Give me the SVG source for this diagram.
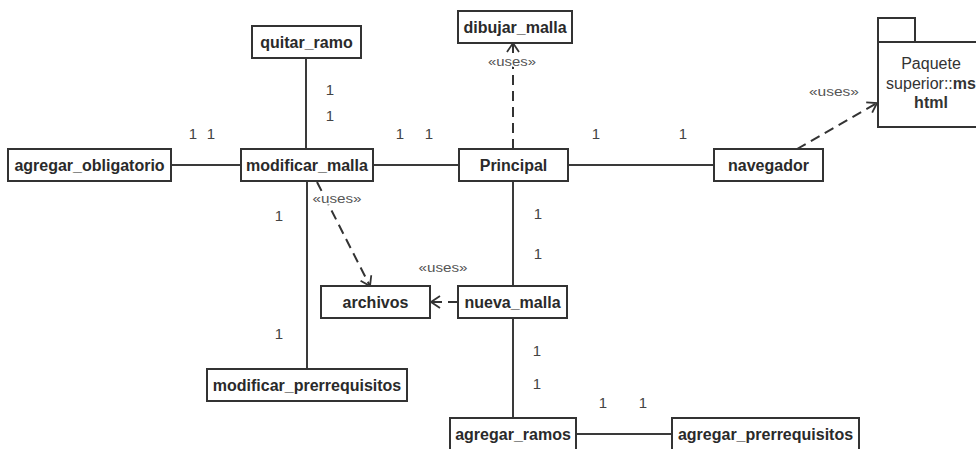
<svg xmlns="http://www.w3.org/2000/svg" width="976" height="449" viewBox="0 0 976 449">
  <style>
    .box { fill: #ffffff; stroke: #333333; stroke-width: 2; }
    .lbl { font-family: "Liberation Sans", Arial, sans-serif; font-size: 16px; font-weight: bold; fill: #2a2a2a; text-anchor: middle; }
    .assoc { stroke: #3a3a3a; stroke-width: 2; fill: none; }
    .dep { stroke: #333333; stroke-width: 2; fill: none; stroke-dasharray: 10 6; }
    .mult { font-family: "Liberation Sans", Arial, sans-serif; font-size: 15px; fill: #444444; text-anchor: middle; }
    .stereo { font-family: "Liberation Sans", Arial, sans-serif; font-size: 12px; fill: #555555; text-anchor: middle; stroke: #ffffff; stroke-width: 3; paint-order: stroke; }
    .pkg { font-family: "Liberation Sans", Arial, sans-serif; font-size: 16px; fill: #333333; text-anchor: middle; }
  </style>
  <defs>
    <marker id="open" markerUnits="userSpaceOnUse" markerWidth="14" markerHeight="14" refX="9" refY="6" orient="auto" overflow="visible">
      <path d="M0,0 L9,6 L0,12" fill="none" stroke="#333333" stroke-width="1.8"/>
    </marker>
  </defs>

  <rect width="976" height="449" fill="#ffffff"/>

  <!-- associations -->
  <g id="connectors">
    <line class="assoc" x1="306" y1="58" x2="306" y2="149"/>
    <line class="assoc" x1="171" y1="165" x2="241" y2="165"/>
    <line class="assoc" x1="373" y1="165" x2="459" y2="165"/>
    <line class="assoc" x1="568" y1="165" x2="714" y2="165"/>
    <line class="assoc" x1="307" y1="181" x2="307" y2="369"/>
    <line class="assoc" x1="513" y1="181" x2="513" y2="286"/>
    <line class="assoc" x1="513" y1="318" x2="513" y2="418"/>
    <line class="assoc" x1="576" y1="434" x2="672" y2="434"/>

    <!-- dependencies -->
    <line class="dep" x1="513" y1="149" x2="513" y2="43" marker-end="url(#open)"/>
    <line class="dep" x1="797" y1="149" x2="877" y2="103" marker-end="url(#open)"/>
    <line class="dep" x1="317" y1="182" x2="370" y2="286" marker-end="url(#open)"/>
    <line class="dep" x1="458" y1="302" x2="431" y2="302" marker-end="url(#open)"/>

    <text class="stereo" x="512" y="66" textLength="48" lengthAdjust="spacingAndGlyphs">«uses»</text>
    <text class="stereo" x="834" y="96" textLength="50" lengthAdjust="spacingAndGlyphs">«uses»</text>
    <text class="stereo" x="337" y="203" textLength="49" lengthAdjust="spacingAndGlyphs">«uses»</text>
    <text class="stereo" x="443" y="272" textLength="49" lengthAdjust="spacingAndGlyphs">«uses»</text>

    <!-- multiplicities -->
    <text class="mult" x="330" y="95">1</text>
    <text class="mult" x="330" y="121">1</text>
    <text class="mult" x="193" y="139">1</text>
    <text class="mult" x="211" y="139">1</text>
    <text class="mult" x="400" y="139">1</text>
    <text class="mult" x="429" y="139">1</text>
    <text class="mult" x="596" y="139">1</text>
    <text class="mult" x="683" y="139">1</text>
    <text class="mult" x="538" y="219">1</text>
    <text class="mult" x="538" y="259">1</text>
    <text class="mult" x="537" y="356">1</text>
    <text class="mult" x="537" y="389">1</text>
    <text class="mult" x="603" y="408">1</text>
    <text class="mult" x="643" y="408">1</text>
    <text class="mult" x="279" y="221">1</text>
    <text class="mult" x="279" y="339">1</text>
  </g>

  <!-- nodes -->
  <g id="quitar_ramo">
    <rect class="box" x="252" y="26" width="109" height="32"/>
    <text class="lbl" x="306.5" y="47.5">quitar_ramo</text>
  </g>
  <g id="dibujar_malla">
    <rect class="box" x="458" y="11" width="114" height="32"/>
    <text class="lbl" x="515" y="32.5">dibujar_malla</text>
  </g>
  <g id="agregar_obligatorio">
    <rect class="box" x="8" y="149" width="163" height="32"/>
    <text class="lbl" x="89.5" y="170.5">agregar_obligatorio</text>
  </g>
  <g id="modificar_malla">
    <rect class="box" x="241" y="149" width="132" height="32"/>
    <text class="lbl" x="307" y="170.5">modificar_malla</text>
  </g>
  <g id="Principal">
    <rect class="box" x="459" y="149" width="109" height="32"/>
    <text class="lbl" x="513.5" y="170.5">Principal</text>
  </g>
  <g id="navegador">
    <rect class="box" x="714" y="149" width="109" height="32"/>
    <text class="lbl" x="768.5" y="170.5">navegador</text>
  </g>
  <g id="paquete_msh">
    <rect class="box" x="878" y="18" width="37" height="24"/>
    <rect class="box" x="878" y="42" width="106" height="85"/>
    <text class="pkg" x="931" y="69">Paquete</text>
    <text class="pkg" x="931" y="89">superior::<tspan font-weight="bold">ms</tspan></text>
    <text class="pkg" x="931" y="108" font-weight="bold">html</text>
  </g>
  <g id="archivos">
    <rect class="box" x="321" y="286" width="109" height="32"/>
    <text class="lbl" x="375.5" y="307.5">archivos</text>
  </g>
  <g id="nueva_malla">
    <rect class="box" x="458" y="286" width="109" height="32"/>
    <text class="lbl" x="512.5" y="307.5">nueva_malla</text>
  </g>
  <g id="modificar_prerrequisitos">
    <rect class="box" x="207" y="369" width="200" height="32"/>
    <text class="lbl" x="307" y="390.5">modificar_prerrequisitos</text>
  </g>
  <g id="agregar_ramos">
    <rect class="box" x="450" y="418" width="126" height="32"/>
    <text class="lbl" x="513" y="439.5">agregar_ramos</text>
  </g>
  <g id="agregar_prerrequisitos">
    <rect class="box" x="672" y="418" width="187" height="32"/>
    <text class="lbl" x="765.5" y="439.5">agregar_prerrequisitos</text>
  </g>
</svg>
